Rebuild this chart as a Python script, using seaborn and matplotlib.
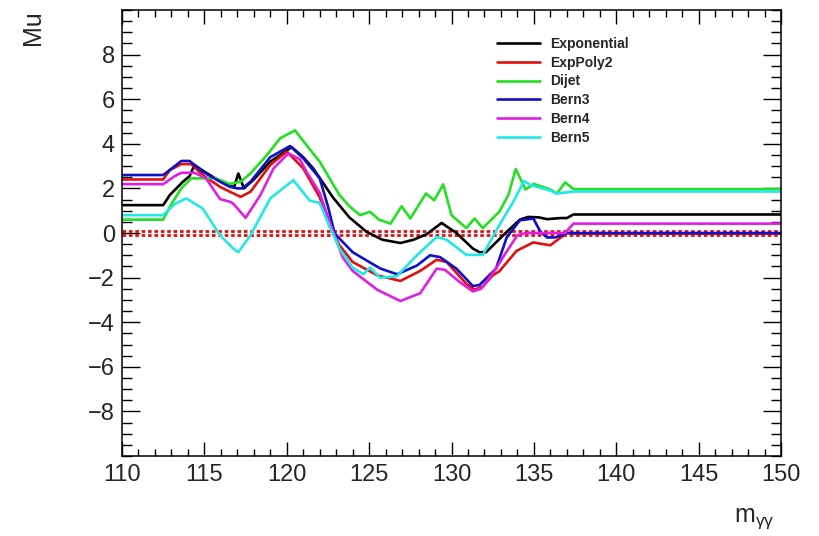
import matplotlib
matplotlib.use('Agg')
import matplotlib.pyplot as plt
import numpy as np
import pandas as pd
import seaborn as sns
from matplotlib.ticker import MultipleLocator, FixedLocator

# values, one pair of lists per fit function
exp_x = [110, 112.5, 112.9, 113.7, 114.1, 114.4, 115.0, 116.0, 116.8, 117.06, 117.4, 118.0, 119.0,
         120.3, 121.0, 121.6, 122.8, 123.8, 124.85, 125.8, 126.9, 127.7, 128.5, 129.4, 130.3,
         131.3, 131.7, 132.1, 133.35, 134.15, 134.65, 135.3, 135.8, 136.6, 137.0, 137.4, 150]
exp_y = [1.25, 1.25, 1.7, 2.3, 2.55, 3.05, 2.75, 2.3, 2.05, 2.67, 2.0, 2.4, 3.2,
         3.85, 3.4, 2.9, 1.6, 0.7, 0.05, -0.3, -0.45, -0.3, -0.05, 0.45, 0.0,
         -0.7, -0.86, -0.86, 0.05, 0.6, 0.72, 0.7, 0.62, 0.67, 0.67, 0.83, 0.83]

expoly_x = [110, 112.5, 112.9, 113.6, 114.2, 114.9, 115.95, 116.55, 117.2, 117.8, 119.0, 120.0,
            121.0, 122.0, 122.6, 123.2, 124.0, 125.5, 126.9, 128.1, 129.1, 129.7, 130.9, 131.4,
            131.9, 132.5, 132.9, 133.95, 134.97, 135.4, 136.0, 137.0, 137.4, 150]
expoly_y = [2.4, 2.4, 2.82, 3.09, 3.09, 2.6, 2.07, 1.85, 1.62, 1.85, 3.05, 3.65,
            2.9, 1.6, 0.3, -0.55, -1.3, -1.9, -2.15, -1.7, -1.2, -1.3, -2.28, -2.54,
            -2.4, -1.9, -1.72, -0.8, -0.42, -0.48, -0.55, 0.0, -0.03, -0.03]

dijet_x = [110, 112.5, 113.0, 113.6, 114.2, 115.3, 115.5, 116.55, 117.2, 117.8, 118.8, 119.6,
           120.5, 121.4, 122.0, 122.8, 123.2, 123.8, 124.45, 125.05, 125.6, 126.3, 126.97,
           127.5, 128.45, 128.95, 129.5, 130.0, 130.9, 131.4, 131.9, 132.9, 133.45, 133.9,
           134.5, 135.0, 136.0, 136.4, 136.9, 137.4, 150]
dijet_y = [0.6, 0.6, 1.3, 2.0, 2.45, 2.45, 2.5, 2.2, 2.3, 2.67, 3.5, 4.25,
           4.6, 3.75, 3.2, 2.2, 1.7, 1.2, 0.8, 0.95, 0.6, 0.42, 1.2,
           0.65, 1.77, 1.47, 2.18, 0.8, 0.22, 0.65, 0.22, 0.95, 1.7, 2.87,
           1.95, 2.2, 1.95, 1.77, 2.27, 1.97, 1.97]

bern3_x = [110, 112.5, 113.2, 113.6, 114.1, 114.9, 115.95, 116.55, 117.0, 117.3, 117.8, 119.0,
           120.2, 121.0, 122.0, 122.5, 122.9, 123.2, 124.0, 125.0, 125.7, 126.7, 127.9, 128.7,
           129.3, 130.3, 131.3, 131.7, 132.7, 133.35, 134.15, 134.97, 135.4, 135.8, 136.3,
           137.0, 150]
bern3_y = [2.6, 2.6, 3.0, 3.23, 3.23, 2.75, 2.3, 2.07, 2.0, 2.0, 2.3, 3.4,
           3.9, 3.35, 2.45, 1.2, 0.0, -0.25, -0.86, -1.3, -1.6, -1.85, -1.46, -1.0,
           -1.08, -1.6, -2.38, -2.33, -1.6, -0.2, 0.57, 0.65, 0.05, -0.2, -0.2,
           0.0, 0.0]

bern4_x = [110, 112.5, 113.2, 113.6, 114.4, 115.1, 115.95, 116.55, 116.75, 117.5, 118.4, 119.2,
           120.1, 120.8, 121.2, 122.0, 122.6, 123.4, 124.0, 125.5, 126.9, 128.1, 129.1, 129.6,
           130.5, 131.3, 131.8, 132.7, 133.2, 134.0, 134.5, 136.9, 137.4, 150]
bern4_y = [2.19, 2.19, 2.55, 2.7, 2.7, 2.45, 1.52, 1.4, 1.32, 0.68, 1.7, 2.9,
           3.57, 3.3, 2.75, 1.8, 0.5, -1.1, -1.7, -2.55, -3.05, -2.7, -1.6, -1.65,
           -2.2, -2.62, -2.5, -1.6, -1.0, -0.1, 0.0, 0.0, 0.42, 0.42]

bern5_x = [110, 112.5, 113.2, 113.9, 114.9, 115.95, 116.75, 117.06, 117.8, 119.0, 120.4, 120.8,
           121.4, 122.0, 122.6, 123.2, 124.0, 124.65, 125.05, 125.66, 126.67, 127.9, 129.1,
           129.7, 130.9, 131.9, 132.9, 133.75, 134.4, 134.8, 136.0, 136.4, 137.4, 150]
bern5_y = [0.8, 0.8, 1.3, 1.55, 1.1, -0.1, -0.7, -0.86, -0.1, 1.55, 2.37, 2.0,
           1.45, 1.35, 0.3, -0.7, -1.55, -1.85, -1.55, -2.0, -1.95, -1.0, -0.18,
           -0.3, -0.98, -0.98, 0.35, 1.4, 2.33, 2.15, 1.9, 1.77, 1.86, 1.86]

series = [
    ("Exponential", exp_x, exp_y, "#000000"),
    ("ExpPoly2", expoly_x, expoly_y, "#e01010"),
    ("Dijet", dijet_x, dijet_y, "#22e022"),
    ("Bern3", bern3_x, bern3_y, "#1010c8"),
    ("Bern4", bern4_x, bern4_y, "#e020e0"),
    ("Bern5", bern5_x, bern5_y, "#22e8e8"),
]
ref_levels = [0.1, -0.1]
y_labels = [-8, -6, -4, -2, 0, 2, 4, 6, 8]

sns.set_style("ticks")
plt.rcParams['font.family'] = ['Liberation Sans', 'DejaVu Sans']
plt.rcParams['mathtext.fontset'] = 'custom'
plt.rcParams['mathtext.rm'] = 'Liberation Sans'
plt.rcParams['mathtext.it'] = 'Liberation Sans'

fig = plt.figure(figsize=(8.19, 5.36), dpi=100)
ax = fig.add_axes([122 / 819, 1 - 456 / 536, (781 - 122) / 819, (456 - 10) / 536])

for lvl in ref_levels:
    ax.axhline(lvl, color="#e01010", lw=2.0, ls=(0, (1.3, 1.0)), zorder=1)

for name, xs, ys, col in series:
    sns.lineplot(x=xs, y=ys, ax=ax, color=col, lw=1.9, label=name, estimator=None, zorder=2)

ax.set_xlim(110, 150)
ax.set_ylim(-10, 10)
ax.xaxis.set_major_locator(MultipleLocator(5))
ax.xaxis.set_minor_locator(MultipleLocator(1))
ax.yaxis.set_major_locator(FixedLocator(y_labels))
ax.yaxis.set_minor_locator(MultipleLocator(0.5))
ax.tick_params(axis='both', which='both', direction='in', top=True, right=True, color='black')
ax.tick_params(axis='x', which='major', length=10, width=1, pad=6, labelsize=17)
ax.tick_params(axis='x', which='minor', length=5, width=1)
ax.tick_params(axis='y', which='major', length=13, width=1, pad=5, labelsize=17)
ax.tick_params(axis='y', which='minor', length=7, width=1)
for sp in ax.spines.values():
    sp.set_color('black')
    sp.set_linewidth(1.1)

ax.set_ylabel("Mu", fontsize=18, loc='top')
ax.yaxis.set_label_coords(-0.117, 1.0)
ax.set_xlabel(r"$\mathregular{m_{\gamma\gamma}}$", fontsize=18, loc='right')
ax.xaxis.set_label_coords(0.99, -0.112)

ax.legend(loc='upper left', bbox_to_anchor=((497 - 122) / 659, (456 - 37) / 446),
          frameon=False, borderpad=0, borderaxespad=0, handlelength=3.1, handletextpad=0.7,
          labelspacing=0.34, prop={'weight': 'bold', 'size': 10})

fig.savefig("out.png", dpi=100)
print("Done")
